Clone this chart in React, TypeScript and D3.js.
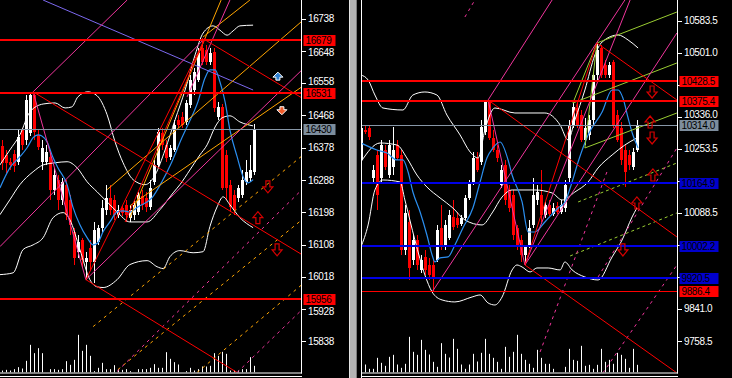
import React from 'react';
import * as d3 from 'd3';

type Pt = [number, number];
type Seg = [number, number, number, number];

// ================= LEFT CHART (16xxx) =================
const leftOpen = [16383,16358,16339,16361,16339,16428,16400,16419,16525,16414,16339,16339,16353,16261,16289,16233,16275,16233,16144,16088,16121,16060,16099,16060,16116,16155,16205,16238,16233,16191,16211,16219,16183,16191,16199,16244,16238,16213,16283,16330,16419,16386,16353,16372,16456,16464,16450,16497,16539,16567,16656,16651,16617,16645,16464,16492,16358,16275,16247,16238,16247,16283,16294,16311];
const leftHigh = [16400,16372,16350,16372,16428,16433,16525,16531,16531,16428,16400,16386,16372,16322,16302,16294,16289,16247,16155,16135,16127,16088,16121,16171,16163,16233,16275,16275,16247,16219,16219,16233,16219,16233,16255,16261,16255,16289,16344,16433,16433,16400,16386,16456,16470,16478,16511,16581,16601,16656,16684,16665,16656,16656,16506,16500,16372,16289,16261,16275,16316,16344,16386,16445];
const leftLow = [16316,16308,16316,16311,16330,16372,16386,16411,16400,16372,16316,16330,16233,16247,16205,16219,16177,16135,16052,16071,16046,16010,16038,16002,16107,16144,16191,16191,16177,16183,16188,16171,16171,16177,16191,16205,16199,16205,16275,16322,16372,16339,16344,16367,16433,16433,16442,16489,16525,16562,16609,16609,16609,16478,16456,16261,16233,16199,16191,16227,16238,16275,16283,16302];
const leftClose = [16336,16336,16330,16328,16408,16386,16511,16525,16422,16380,16378,16367,16261,16302,16233,16283,16191,16163,16071,16116,16066,16071,16060,16149,16155,16211,16238,16205,16191,16205,16197,16191,16205,16219,16247,16219,16213,16266,16330,16422,16386,16350,16378,16442,16442,16442,16503,16567,16589,16642,16617,16617,16642,16489,16492,16266,16266,16213,16205,16266,16289,16311,16316,16430];
const leftVolume = [6,8,6,10,16,12,35,83,58,73,58,0,10,10,8,10,34,23,38,113,65,83,50,4,14,29,10,10,22,10,8,10,4,0,10,10,10,14,25,14,14,61,41,31,24,0,4,14,6,10,18,18,20,58,50,62,56,6,6,6,10,10,46,20];

const leftTicks = [16738, 16648, 16558, 16468, 16378, 16288, 16198, 16108, 16018, 15928, 15838];
const leftRedLevels = [16679, 16531, 15956];
const leftLastPrice = 16430;

const leftUpperBand: Pt[] = [[-0.6,16330],[1.9,16372],[4.4,16414],[6.9,16478],[10.2,16500],[13.2,16503],[15.7,16489],[17.4,16492],[18.9,16520],[21.4,16534],[23.7,16523],[26.2,16470],[28.2,16394],[30.2,16336],[32.7,16289],[35.7,16275],[38.2,16302],[40.7,16372],[43.2,16456],[45.7,16539],[48.2,16637],[50.2,16698],[52.7,16718],[54.4,16706],[56.2,16692],[57.7,16704],[59.4,16718],[62.7,16720]];
const leftMidBand: Pt[] = [[-0.6,16191],[1.9,16233],[4.4,16275],[7.7,16311],[10.2,16330],[13.2,16336],[16.2,16339],[18.7,16322],[21.2,16283],[23.7,16255],[26.2,16227],[28.7,16199],[31.9,16171],[36.2,16171],[39.4,16205],[42.7,16252],[44.4,16275],[46.9,16316],[49.4,16358],[51.2,16386],[53.2,16436],[54.9,16461],[56.9,16467],[59.4,16450],[62.7,16439]];
const leftLowerBand: Pt[] = [[-0.6,16024],[2.7,16029],[5.2,16094],[7.7,16107],[10.2,16127],[12.7,16183],[15.2,16197],[16.9,16177],[19.4,16094],[21.9,16010],[23.7,15990],[25.2,15988],[28.7,16010],[31.9,16052],[36.2,16063],[38.7,16046],[40.2,16041],[41.9,16074],[44.4,16091],[47.7,16085],[50.2,16088],[51.9,16158],[53.7,16213],[55.2,16241],[56.9,16219],[59.4,16183],[62.7,16155]];
const leftMA: Pt[] = [[-0.6,16266],[1.9,16322],[4.4,16353],[6.2,16378],[7.7,16406],[8.9,16414],[9.9,16411],[11.2,16394],[12.7,16350],[13.9,16322],[16.2,16275],[17.7,16211],[19.4,16163],[21.2,16127],[22.7,16107],[23.9,16113],[25.2,16144],[26.9,16171],[28.7,16199],[30.2,16202],[31.9,16199],[33.9,16213],[37.4,16238],[39.9,16283],[42.4,16339],[44.9,16406],[46.4,16442],[48.9,16506],[50.7,16573],[51.9,16595],[53.2,16595],[54.4,16562],[55.7,16506],[56.9,16428],[58.7,16353],[60.2,16297],[61.4,16280],[62.7,16289]];

const leftRedLines: Seg[] = [[7.7,16534,74.9,16080],[50.7,16679,74.9,16517],[20.9,16010,58.7,15751],[20.9,16010,50.7,16684],[30.7,16171,50.7,16684]];
const leftPinkLines: Seg[] = [[-0.6,16102,50.7,16684],[7.7,16534,31.2,16790],[7.7,16534,20.9,16010],[20.9,16010,74.9,16595],[46.2,16520,56.9,16790]];
const leftOrangeLines: Seg[] = [[31.9,16183,54.7,16790],[26.2,16261,74.9,16731],[31.9,16216,74.9,16548],[50.2,16687,61.9,16790]];
const leftOrangeDashed: Seg[] = [[22.7,15879,74.9,16355],[28.9,15759,74.9,16177],[48.7,15751,74.9,15996]];
const leftPinkDashed: Seg[] = [[28.7,15754,74.9,16261],[58.7,15751,74.9,15926]];
const leftSlateLines: Seg[] = [[10.2,16790,62.7,16539]];

const leftDownHollow: Pt[] = [[66.4,16269],[68.7,16093]];
const leftUpHollow: Pt[] = [[63.9,16183]];
const leftUpFilled: Pt[] = [[68.9,16575]];
const leftDownFilled: Pt[] = [[69.9,16484]];

// ================= RIGHT CHART (10xxx) =================
const rightOpen = [10224.8,10302.0,10307.2,10178.4,10237.6,10178.4,10250.5,10186.1,10206.7,10263.4,10237.6,9993.0,10065.1,9967.2,10018.7,9941.5,9975.0,9954.3,9954.3,9967.2,10049.6,10000.7,10023.9,10078.0,10075.4,10059.9,10075.4,10126.9,10168.1,10229.9,10219.6,10296.9,10374.1,10281.4,10250.5,10160.4,10211.9,10147.5,10134.6,10049.6,10018.7,9980.1,10005.9,10057.4,10121.7,10134.6,10083.1,10108.9,10085.7,10106.3,10090.8,10101.1,10178.4,10314.9,10358.7,10340.6,10276.3,10289.1,10327.8,10443.7,10513.2,10469.4,10443.7,10477.1,10340.6,10307.2,10250.5,10237.6,10206.7,10250.5];
const rightHigh = [10314.9,10312.3,10314.9,10211.9,10250.5,10276.3,10263.4,10276.3,10309.7,10276.3,10250.5,10108.9,10096.0,10031.6,10031.6,9980.1,9993.0,9972.4,9967.2,10057.4,10108.9,10070.2,10096.0,10121.7,10090.8,10083.1,10134.6,10173.2,10245.4,10245.4,10327.8,10379.3,10379.3,10302.0,10263.4,10211.9,10224.8,10160.4,10147.5,10057.4,10031.6,10005.9,10070.2,10178.4,10160.4,10199.0,10116.6,10121.7,10114.0,10116.6,10121.7,10173.2,10327.8,10371.5,10371.5,10353.5,10332.9,10340.6,10451.4,10526.1,10520.9,10482.3,10477.1,10482.3,10353.5,10322.6,10263.4,10250.5,10255.7,10327.8];
const rightLow = [10211.9,10291.7,10276.3,10168.1,10096.0,10168.1,10199.0,10178.4,10186.1,10224.8,9980.1,9980.1,9915.7,9954.3,9941.5,9933.7,9928.6,9915.7,9887.4,9962.1,9993.0,9993.0,10018.7,10044.5,10049.6,10054.8,10070.2,10121.7,10160.4,10193.8,10211.9,10289.1,10276.3,10245.4,10219.6,10152.6,10108.9,10090.8,10018.7,9993.0,9962.1,9954.3,9998.1,10049.6,10108.9,10065.1,10075.4,10080.5,10080.5,10085.7,10085.7,10090.8,10168.1,10307.2,10307.2,10271.1,10263.4,10276.3,10314.9,10430.8,10436.0,10436.0,10436.0,10307.2,10271.1,10211.9,10155.2,10199.0,10199.0,10245.4];
const rightClose = [10307.2,10296.9,10284.0,10199.0,10134.6,10263.4,10206.7,10263.4,10250.5,10229.9,9993.0,10088.3,9946.6,10018.7,9954.3,9967.2,9941.5,9928.6,9920.9,10044.5,10000.7,10057.4,10083.1,10052.2,10057.4,10075.4,10126.9,10168.1,10229.9,10199.0,10309.7,10374.1,10281.4,10250.5,10229.9,10199.0,10121.7,10101.1,10031.6,10005.9,9980.1,10000.7,10049.6,10134.6,10142.3,10083.1,10108.9,10085.7,10101.1,10090.8,10108.9,10160.4,10314.9,10361.2,10314.9,10276.3,10307.2,10327.8,10443.7,10508.0,10443.7,10443.7,10469.4,10314.9,10276.3,10224.8,10193.8,10211.9,10245.4,10314.0];
const rightVolume = [0,24,11,11,44,29,20,47,53,24,14,26,107,62,53,98,68,54,32,17,88,56,45,101,71,24,11,24,56,33,59,101,56,44,32,11,77,47,62,113,56,38,26,14,68,44,26,26,11,0,0,17,71,38,35,80,20,23,11,23,71,32,38,26,59,53,41,14,71,23];

const rightTicks = [10583.5, 10501.0, 10418.5, 10336.0, 10253.5, 10171.0, 10088.5, 10006.0, 9923.5, 9841.0, 9758.5];
const rightRedLevels = [10428.5, 10375.4];
const rightThinRedLevels = [9886.4];
const rightBlueLevels = [10164.9, 10002.2, 9920.5];
const rightLastPrice = 10314.0;

const rightUpperBand: Pt[] = [[-0.1,10443.7],[1.7,10430.8],[3.4,10392.1],[5.4,10358.7],[10.4,10353.5],[12.9,10392.1],[15.9,10399.9],[18.9,10392.1],[21.4,10340.6],[24.7,10289.1],[27.2,10245.4],[29.2,10229.9],[30.9,10302.0],[33.4,10358.7],[38.4,10345.8],[45.9,10345.8],[49.7,10314.9],[51.7,10276.3],[53.4,10327.8],[55.9,10405.0],[58.4,10495.2],[60.2,10528.6],[64.2,10546.7],[66.7,10533.8],[69.2,10513.2]];
const rightMidBand: Pt[] = [[-0.1,10219.6],[4.7,10268.5],[8.9,10263.4],[11.4,10229.9],[13.9,10186.1],[16.4,10155.2],[19.7,10126.9],[22.9,10101.1],[25.9,10070.2],[30.2,10057.4],[32.7,10088.3],[35.2,10129.5],[37.7,10147.5],[43.4,10147.5],[47.7,10139.8],[50.2,10121.7],[53.4,10142.3],[56.7,10168.1],[59.2,10204.2],[62.7,10237.6],[65.9,10263.4],[68.9,10281.4]];
const rightLowerBand: Pt[] = [[-0.1,10000.7],[1.7,10057.4],[3.4,10147.5],[5.4,10173.2],[9.7,10168.1],[10.9,10121.7],[13.4,10018.7],[15.9,9928.6],[17.7,9884.8],[20.2,9864.2],[23.4,9859.1],[27.7,9871.9],[29.7,9877.1],[31.7,9856.5],[33.4,9851.3],[35.2,9871.9],[37.7,9941.5],[38.9,9954.3],[40.2,9949.2],[42.2,9936.3],[43.9,9946.6],[46.7,9946.6],[49.7,9941.5],[50.9,9962.1],[52.7,9941.5],[55.9,9923.4],[59.2,9915.7],[62.7,9975.0],[65.2,10018.7],[67.7,10078.0],[68.9,10101.1]];
const rightMA: Pt[] = [[-0.1,10268.5],[3.9,10250.5],[6.4,10242.8],[8.9,10224.8],[10.4,10224.8],[11.7,10193.8],[12.9,10142.3],[14.7,10090.8],[16.4,10031.6],[17.7,9980.1],[18.4,9962.1],[19.7,9972.4],[21.7,9975.0],[23.4,10005.9],[25.4,10049.6],[27.9,10101.1],[29.7,10168.1],[31.4,10229.9],[32.9,10255.7],[34.7,10271.1],[36.7,10224.8],[37.7,10186.1],[40.2,10116.6],[41.7,10039.3],[43.4,10039.3],[45.9,10065.1],[49.2,10101.1],[50.9,10116.6],[52.7,10168.1],[54.2,10219.6],[56.7,10289.1],[60.2,10348.4],[62.7,10405.0],[64.2,10405.0],[65.4,10384.4],[66.7,10332.9],[67.9,10289.1],[69.2,10255.7]];

const rightRedLines: Seg[] = [[31.7,10379.3,78.9,10026.5],[58.9,10526.1,78.9,10379.3],[40.9,9954.3,78.9,9676.2],[40.9,9954.3,58.9,10526.1]];
const rightPinkLines: Seg[] = [[17.7,9884.8,65.9,10636.8],[31.7,10379.3,47.7,10636.8],[31.7,10379.3,40.9,9954.3],[40.9,9954.3,78.9,10551.8],[40.9,9954.3,67.2,10636.8]];
const rightPinkDashed: Seg[] = [[25.9,10593.0,28.4,10636.8],[44.7,9730.3,61.4,10193.8],[59.2,9923.4,78.9,10255.7],[60.4,9676.2,78.9,9954.3]];
const rightGreenLines: Seg[] = [[58.9,10526.1,78.9,10605.9],[52.9,10371.5,78.9,10474.6],[55.9,10255.7,78.9,10345.8],[52.9,10371.5,58.9,10526.1],[55.9,10255.7,58.9,10526.1]];
const rightGreenDashed: Seg[] = [[52.2,9977.5,78.9,10088.3],[54.2,10116.6,78.9,10217.0]];

const rightDownHollow: Pt[] = [[72.7,10399.9],[72.7,10281.4],[65.4,9993.0]];
const rightUpHollow: Pt[] = [[72.2,10322.6],[72.9,10186.1],[68.9,10114.0]];

// ================= SCALES =================
const xL = d3.scaleLinear().domain([0, 63]).range([2.3, 254.3]);
const yL = d3.scaleLinear().domain([15838, 16738]).range([341.3, 18.7]);
const xR = d3.scaleLinear().domain([0, 69]).range([361.3, 637.3]);
const yR = d3.scaleLinear().domain([9758.5, 10583.5]).range([341.0, 20.7]);
const yVol = d3.scaleLinear().domain([0, 120]).range([372.5, 332.5]);

const FONT = '"Liberation Sans", Arial, sans-serif';
const PINK = '#f0359c';
const ORANGE = '#ffa500';
const GREEN = '#9acd32';

type Scale = d3.ScaleLinear<number, number>;

interface LineGroup { segs: Seg[]; color: string; width: number; dash?: string }
interface LevelGroup { values: number[]; color: string; width: number; box: string }

interface PanelCfg {
  id: string;
  plotLeft: number;
  plotRight: number;
  axisX: number;
  boxWidth: number;
  x: Scale;
  y: Scale;
  open: number[]; high: number[]; low: number[]; close: number[]; volume: number[];
  upper: Pt[]; mid: Pt[]; lower: Pt[]; ma: Pt[];
  lines: LineGroup[];
  levels: LevelGroup[];
  last: number;
  ticks: number[];
  fmt: (v: number) => string;
  downHollow: Pt[]; upHollow: Pt[]; upFilled: Pt[]; downFilled: Pt[];
}

const crisp = (v: number) => Math.round(v) + 0.5;

function Panel({ c }: { c: PanelCfg }) {
  const { x, y } = c;
  const curve = d3.line<Pt>().x(d => x(d[0])).y(d => y(d[1])).curve(d3.curveMonotoneX);
  const labelX = c.axisX + 6.5;
  const boxX = c.axisX + 2;
  const lvlY = (v: number, w: number) => (w >= 2 ? Math.round(y(v)) : crisp(y(v)));
  const boxValues = [c.last, ...c.levels.flatMap(g => g.values)];
  const hiddenByBox = (t: number) => boxValues.some(v => Math.abs(y(v) - y(t)) < 8);
  // small nudge for labels sitting right next to a value box
  const labelY = (t: number) => {
    const yt = y(t);
    let shift = 0;
    boxValues.forEach(v => {
      const d = yt - y(v);
      if (Math.abs(d) < 12) shift += d > 0 ? 2 : -2;
    });
    return yt + shift;
  };
  return (
    <g>
      <defs>
        <clipPath id={c.id}>
          <rect x={c.plotLeft} y={0} width={c.plotRight - c.plotLeft} height={372.5} />
        </clipPath>
      </defs>
      <g clipPath={`url(#${c.id})`}>
        {c.volume.map((v, i) =>
          v > 0 ? (
            <line key={'v' + i} x1={crisp(x(i))} x2={crisp(x(i))} y1={yVol(0)} y2={yVol(v)} stroke="#fff" strokeWidth={1} />
          ) : null
        )}
        {c.open.map((o, i) => {
          const cl = c.close[i];
          const up = cl >= o;
          const col = up ? '#ffffff' : '#ff0000';
          const cx = Math.round(x(i));
          const top = Math.round(y(Math.max(o, cl)));
          const bot = Math.round(y(Math.min(o, cl)));
          return (
            <g key={'c' + i}>
              <line x1={cx + 0.5} x2={cx + 0.5} y1={Math.round(y(c.high[i]))} y2={Math.round(y(c.low[i]))} stroke={col} strokeWidth={1} />
              <rect x={cx - 1} y={top} width={3} height={Math.max(1, bot - top)} fill={col} />
            </g>
          );
        })}
        <path d={curve(c.upper) || ''} fill="none" stroke="#fff" strokeWidth={1} />
        <path d={curve(c.mid) || ''} fill="none" stroke="#fff" strokeWidth={1} />
        <path d={curve(c.lower) || ''} fill="none" stroke="#fff" strokeWidth={1} />
        <path d={curve(c.ma) || ''} fill="none" stroke="#2b8ff0" strokeWidth={1.2} />
        {c.lines.map((g, gi) =>
          g.segs.map((s, si) => (
            <line
              key={`l${gi}-${si}`}
              x1={x(s[0])} y1={y(s[1])} x2={x(s[2])} y2={y(s[3])}
              stroke={g.color} strokeWidth={g.width} strokeDasharray={g.dash}
            />
          ))
        )}
        {c.levels.map((g, gi) =>
          g.values.map((v, vi) => (
            <line key={`h${gi}-${vi}`} x1={c.plotLeft} x2={c.plotRight} y1={lvlY(v, g.width)} y2={lvlY(v, g.width)} stroke={g.color} strokeWidth={g.width} />
          ))
        )}
        <line x1={c.plotLeft} x2={c.plotRight} y1={crisp(y(c.last))} y2={crisp(y(c.last))} stroke="#8797a7" strokeWidth={1} />
        {c.downHollow.map((p, i) => (
          <path key={'dh' + i} transform={`translate(${x(p[0])},${y(p[1])})`} d="M-2,-6 L2,-6 L2,0 L5,0 L0,6 L-5,0 L-2,0 Z" fill="none" stroke="#d40000" strokeWidth={1.2} />
        ))}
        {c.upHollow.map((p, i) => (
          <path key={'uh' + i} transform={`translate(${x(p[0])},${y(p[1])})`} d="M-2,6 L2,6 L2,0 L5,0 L0,-6 L-5,0 L-2,0 Z" fill="none" stroke="#d40000" strokeWidth={1.2} />
        ))}
        {c.upFilled.map((p, i) => (
          <path key={'uf' + i} transform={`translate(${x(p[0])},${y(p[1])})`} d="M0,-5 L5,0 L2,0 L2,3 L-2,3 L-2,0 L-5,0 Z" fill="#2f7fd0" stroke="#ffffff" strokeWidth={1} />
        ))}
        {c.downFilled.map((p, i) => (
          <path key={'df' + i} transform={`translate(${x(p[0])},${y(p[1])})`} d="M0,5 L5,0 L2,0 L2,-3 L-2,-3 L-2,0 L-5,0 Z" fill="#f05a28" stroke="#ffffff" strokeWidth={1} />
        ))}
      </g>
      {/* bottom borders */}
      <line x1={c.plotLeft - (c.plotLeft > 0 ? 1 : 0)} x2={c.axisX + 0.5} y1={373} y2={373} stroke="#fff" strokeWidth={1} />
      <line x1={c.plotLeft - (c.plotLeft > 0 ? 1 : 0)} x2={c.axisX + 0.5} y1={376.5} y2={376.5} stroke="#fff" strokeWidth={1} />
      {/* price axis */}
      <line x1={c.axisX} x2={c.axisX} y1={0} y2={373.5} stroke="#fff" strokeWidth={1} />
      {c.ticks.map((t, i) => (
        <g key={'t' + i}>
          <line x1={c.axisX} x2={c.axisX + 4.5} y1={crisp(y(t))} y2={crisp(y(t))} stroke="#fff" strokeWidth={1} />
          {hiddenByBox(t) ? null : (
            <text x={labelX} y={labelY(t)} dy="0.35em" fill="#fff" fontFamily={FONT} fontSize={10} letterSpacing={-0.4}>
              {c.fmt(t)}
            </text>
          )}
        </g>
      ))}
      {c.levels.map((g, gi) =>
        g.values.map((v, vi) => (
          <g key={`b${gi}-${vi}`}>
            <rect x={boxX} y={Math.round(y(v)) - 5} width={c.boxWidth} height={11} fill={g.box} />
            <text x={boxX + 2} y={Math.round(y(v)) + 0.5} dy="0.35em" fill="#000" fontFamily={FONT} fontSize={10} letterSpacing={-0.4}>
              {c.fmt(v)}
            </text>
          </g>
        ))
      )}
      <rect x={boxX} y={Math.round(y(c.last)) - 5} width={c.boxWidth} height={11} fill="#7d8d9d" />
      <text x={boxX + 2} y={Math.round(y(c.last)) + 0.5} dy="0.35em" fill="#000" fontFamily={FONT} fontSize={10} letterSpacing={-0.4}>
        {c.fmt(c.last)}
      </text>
    </g>
  );
}

const fmtL = d3.format('d');
const fmtR = d3.format('.1f');

const leftCfg: PanelCfg = {
  id: 'clipL', plotLeft: 0, plotRight: 301.5, axisX: 301.5, boxWidth: 32,
  x: xL, y: yL,
  open: leftOpen, high: leftHigh, low: leftLow, close: leftClose, volume: leftVolume,
  upper: leftUpperBand, mid: leftMidBand, lower: leftLowerBand, ma: leftMA,
  lines: [
    { segs: leftSlateLines, color: '#7b68ee', width: 1 },
    { segs: leftOrangeDashed, color: ORANGE, width: 1, dash: '3 4' },
    { segs: leftPinkDashed, color: PINK, width: 1, dash: '3 4' },
    { segs: leftOrangeLines, color: ORANGE, width: 1 },
    { segs: leftPinkLines, color: PINK, width: 1 },
    { segs: leftRedLines, color: '#ff0000', width: 1 },
  ],
  levels: [{ values: leftRedLevels, color: '#ff0000', width: 2, box: '#ff0000' }],
  last: leftLastPrice,
  ticks: leftTicks, fmt: fmtL,
  downHollow: leftDownHollow, upHollow: leftUpHollow, upFilled: leftUpFilled, downFilled: leftDownFilled,
};

const rightCfg: PanelCfg = {
  id: 'clipR', plotLeft: 362, plotRight: 677.5, axisX: 677.5, boxWidth: 39,
  x: xR, y: yR,
  open: rightOpen, high: rightHigh, low: rightLow, close: rightClose, volume: rightVolume,
  upper: rightUpperBand, mid: rightMidBand, lower: rightLowerBand, ma: rightMA,
  lines: [
    { segs: rightGreenDashed, color: GREEN, width: 1, dash: '3 3' },
    { segs: rightPinkDashed, color: PINK, width: 1, dash: '3 4' },
    { segs: rightGreenLines, color: GREEN, width: 1 },
    { segs: rightPinkLines, color: PINK, width: 1 },
    { segs: rightRedLines, color: '#ff0000', width: 1 },
  ],
  levels: [
    { values: rightRedLevels, color: '#ff0000', width: 2, box: '#ff0000' },
    { values: rightThinRedLevels, color: '#ff0000', width: 1, box: '#ff0000' },
    { values: rightBlueLevels, color: '#0000e6', width: 2, box: '#0000cd' },
  ],
  last: rightLastPrice,
  ticks: rightTicks, fmt: fmtR,
  downHollow: rightDownHollow, upHollow: rightUpHollow, upFilled: [], downFilled: [],
};

export default function App() {
  return (
    <svg
      width={732}
      height={378}
      viewBox="0 0 732 378"
      style={{ position: 'absolute', left: 0, top: 0, background: '#000', display: 'block' }}
    >
      <rect x={0} y={0} width={732} height={378} fill="#000" />
      <Panel c={leftCfg} />
      {/* separator / scrollbar strip */}
      <rect x={349} y={0} width={8} height={378} fill="#b4b4b4" />
      <line x1={349.5} x2={349.5} y1={0} y2={378} stroke="#e4e4e4" />
      <line x1={356.5} x2={356.5} y1={0} y2={378} stroke="#7c7c7c" />
      {/* right panel left border */}
      <line x1={361.5} x2={361.5} y1={0} y2={378} stroke="#fff" strokeWidth={1} />
      <Panel c={rightCfg} />
    </svg>
  );
}
